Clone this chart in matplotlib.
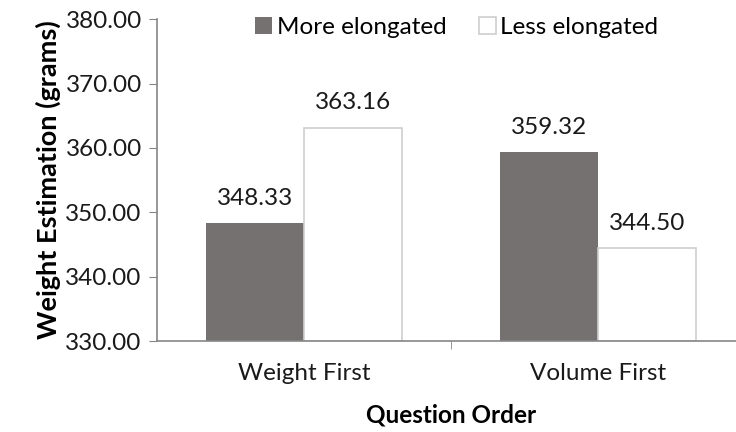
import matplotlib.pyplot as plt
import numpy as np

plt.rcParams['font.family'] = ['Lato', 'DejaVu Sans']

# mean weight estimates per question order
groups = ['Weight First', 'Volume First']
more_elongated = [348.33, 359.32]
less_elongated = [363.16, 344.50]
y_ticks = [330, 340, 350, 360, 370, 380]

fs = 17.5

fig = plt.figure(figsize=(7.36, 4.32), dpi=100)
ax = fig.add_axes([0.2133, 0.2106, 0.799, 0.745])

x = np.arange(len(groups))
w = 1 / 3
ax.bar(x - w / 2, np.array(more_elongated) - 330, w, bottom=330,
       color='#767171', edgecolor='none', label='More elongated')
ax.bar(x + w / 2, np.array(less_elongated) - 330, w, bottom=330,
       color='white', edgecolor='#d0cece', linewidth=1.2, label='Less elongated')

for xs, vals in ((x - w / 2, more_elongated), (x + w / 2, less_elongated)):
    for xi, v in zip(xs, vals):
        ax.text(xi, v + 2.2, f'{v:.2f}', ha='center', va='bottom', fontsize=fs, color='#1a1a1a')

ax.set_xlim(-0.5, 1.5)
ax.set_ylim(330, 380)
ax.set_yticks(y_ticks)
ax.set_yticklabels([f'{t:.2f}' for t in y_ticks], fontsize=fs, color='#1a1a1a')
ax.set_xticks(x)
ax.set_xticklabels(groups, fontsize=fs, color='#1a1a1a')
ax.set_xticks([0.5], minor=True)
ax.tick_params(axis='x', which='major', length=0, pad=16)
ax.tick_params(axis='x', which='minor', length=6, color='#868686')
ax.tick_params(axis='y', length=6, color='#868686', pad=5)

for s in ('top', 'right'):
    ax.spines[s].set_visible(False)
for s in ('left', 'bottom'):
    ax.spines[s].set_color('#868686')
    ax.spines[s].set_linewidth(1.2)

ax.set_ylabel('Weight Estimation (grams)', fontsize=19.5, fontweight='bold', labelpad=3)
ax.set_xlabel('Question Order', fontsize=fs, fontweight='bold', labelpad=14)

ax.legend(loc='upper center', bbox_to_anchor=(0.51, 1.075), ncol=2, frameon=False,
          fontsize=fs, handlelength=0.7, handleheight=0.7, handletextpad=0.2,
          columnspacing=1.3)

fig.savefig('out.png', dpi=100)
